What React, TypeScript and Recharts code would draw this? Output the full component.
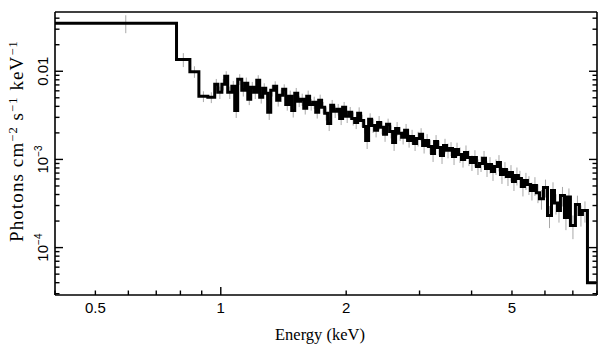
import React from "react"
import { ComposedChart, Line, Scatter, ErrorBar, XAxis, YAxis } from "recharts"

// lower bin edges (keV)
const binLo = [
    0.4, 0.783, 0.843, 0.886, 0.931, 0.967, 0.984, 1.006, 1.022, 1.039,
    1.063, 1.08, 1.098, 1.123, 1.142, 1.161, 1.18, 1.2, 1.22, 1.24,
    1.261, 1.282, 1.296, 1.318, 1.34, 1.362, 1.385, 1.408, 1.432, 1.456,
    1.48, 1.505, 1.53, 1.555, 1.582, 1.608, 1.634, 1.662, 1.69, 1.718,
    1.746, 1.776, 1.805, 1.836, 1.866, 1.898, 1.929, 1.961, 1.994, 2.028,
    2.062, 2.096, 2.131, 2.166, 2.203, 2.227, 2.264, 2.302, 2.34, 2.379,
    2.419, 2.459, 2.5, 2.543, 2.585, 2.628, 2.672, 2.717, 2.762, 2.808,
    2.855, 2.903, 2.951, 3.001, 3.051, 3.102, 3.154, 3.206, 3.26, 3.314,
    3.369, 3.425, 3.482, 3.541, 3.6, 3.66, 3.721, 3.783, 3.846, 3.91,
    3.975, 4.041, 4.108, 4.179, 4.25, 4.32, 4.392, 4.465, 4.54, 4.615,
    4.692, 4.77, 4.85, 4.932, 5.014, 5.097, 5.182, 5.269, 5.357, 5.446,
    5.538, 5.63, 5.724, 5.821, 5.951, 6.085, 6.221, 6.325, 6.43, 6.537,
    6.683, 6.794, 6.907, 7.101, 7.26, 7.381, 7.589,
]
const lastEdge = 7.97

// photons cm^-2 s^-1 keV^-1
const flux = [
    0.0351, 0.0136, 0.0099, 0.0052, 0.00506, 0.00711, 0.00577, 0.00712, 0.00878, 0.00577,
    0.00675, 0.0036, 0.00812, 0.00608, 0.00731, 0.0048, 0.00658, 0.00577, 0.00791, 0.00506,
    0.00641, 0.00562, 0.00342, 0.00608, 0.00675, 0.00468, 0.00533, 0.00624, 0.00421, 0.0052,
    0.0036, 0.00562, 0.00456, 0.0048, 0.0038, 0.0052, 0.00421, 0.00444, 0.00342, 0.00468,
    0.0039, 0.00333, 0.00256, 0.00411, 0.00351, 0.0037, 0.00292, 0.0039, 0.00308, 0.00342,
    0.00292, 0.00263, 0.00333, 0.00277, 0.00237, 0.00164, 0.00285, 0.00243, 0.00214, 0.00263,
    0.00231, 0.00193, 0.0025, 0.00208, 0.00156, 0.00225, 0.00198, 0.00178, 0.00214, 0.00164,
    0.00182, 0.00152, 0.00173, 0.00193, 0.00144, 0.00164, 0.0014, 0.00117, 0.0016, 0.00137,
    0.00111, 0.00144, 0.00127, 0.00133, 0.00108, 0.0013, 0.00114, 0.000999, 0.0012, 0.00105,
    0.000924, 0.00105, 0.000833, 0.0009, 0.00103, 0.00079, 0.000877, 0.000731, 0.000833, 0.000924,
    0.000676, 0.00077, 0.000641, 0.000712, 0.000562, 0.000658, 0.000608, 0.000494, 0.000577, 0.00052,
    0.000444, 0.000507, 0.00042, 0.000359, 0.00048, 0.000231, 0.000444, 0.00032, 0.000263, 0.00039,
    0.000219, 0.000375, 0.000178, 0.000308, 0.000237, 0.000263, 0.00004,
]

// fractional 1-sigma errors
const relErr = [
    0.23, 0.18, 0.15, 0.14, 0.14, 0.15, 0.16, 0.15, 0.14, 0.16,
    0.15, 0.18, 0.14, 0.15, 0.16, 0.14, 0.15, 0.16, 0.14, 0.15,
    0.14, 0.16, 0.18, 0.15, 0.14, 0.15, 0.16, 0.14, 0.15, 0.16,
    0.17, 0.15, 0.14, 0.16, 0.15, 0.16, 0.15, 0.16, 0.15, 0.16,
    0.15, 0.17, 0.18, 0.15, 0.16, 0.15, 0.16, 0.15, 0.16, 0.15,
    0.17, 0.16, 0.17, 0.16, 0.17, 0.2, 0.17, 0.18, 0.17, 0.18,
    0.17, 0.18, 0.16, 0.17, 0.2, 0.18, 0.18, 0.17, 0.18, 0.17,
    0.19, 0.18, 0.19, 0.17, 0.19, 0.18, 0.18, 0.2, 0.18, 0.19,
    0.2, 0.19, 0.19, 0.18, 0.2, 0.19, 0.2, 0.19, 0.2, 0.2,
    0.2, 0.21, 0.2, 0.2, 0.21, 0.2, 0.21, 0.22, 0.2, 0.21,
    0.22, 0.21, 0.22, 0.21, 0.22, 0.23, 0.22, 0.23, 0.22, 0.24,
    0.23, 0.24, 0.24, 0.25, 0.23, 0.28, 0.24, 0.26, 0.27, 0.25,
    0.28, 0.25, 0.3, 0.26, 0.27, 0.27, 0,
]

const xTicks = [0.4, 0.5, 0.6, 0.7, 0.8, 0.9, 1, 2, 3, 4, 5, 6, 7, 8]
const xTickLabels = ["", "0.5", "", "", "", "", "1", "2", "", "", "5", "", "", ""]
const yTicks = [
    3e-5, 4e-5, 5e-5, 6e-5, 7e-5, 8e-5, 9e-5, 1e-4,
    2e-4, 3e-4, 4e-4, 5e-4, 6e-4, 7e-4, 8e-4, 9e-4, 1e-3,
    2e-3, 3e-3, 4e-3, 5e-3, 6e-3, 7e-3, 8e-3, 9e-3, 0.01,
    0.02, 0.03, 0.04,
]
const yTickLabels: Record<string, [string, string]> = {
    "0.0001": ["10", "\u22124"],
    "0.001": ["10", "\u22123"],
    "0.01": ["0.01", ""],
}

const lineData = [
    ...binLo.map((e, i) => ({ e, f: flux[i] })),
    { e: lastEdge, f: flux[flux.length - 1] },
]
const barData = binLo.map((e, i) => {
    const hi = i + 1 < binLo.length ? binLo[i + 1] : lastEdge
    const d = flux[i] * relErr[i]
    return { e: (e + hi) / 2, f: flux[i], err: [d, d] }
})

const isDecade = (v: number) => Math.abs(Math.log10(v) - Math.round(Math.log10(v))) < 1e-6
const sans = "'Liberation Sans', Arial, sans-serif"
const serif = "'Liberation Serif', 'Times New Roman', serif"

const BottomTick = ({ x, y, payload, index }: any) => {
    const len = isDecade(payload.value) ? 8 : 4.5
    const lab = xTickLabels[index]
    return (
        <g>
            <line x1={x} x2={x} y1={y} y2={y - len} stroke="#000" strokeWidth={1.4} />
            {lab ? (
                <text x={x} y={y + 18} textAnchor="middle" fontFamily={sans} fontSize={15} fill="#000">
                    {lab}
                </text>
            ) : null}
        </g>
    )
}

const TopTick = ({ x, y, payload }: any) => {
    const len = isDecade(payload.value) ? 8 : 4.5
    return <line x1={x} x2={x} y1={y} y2={y + len} stroke="#000" strokeWidth={1.4} />
}

const LeftTick = ({ x, y, payload }: any) => {
    const len = isDecade(payload.value) ? 8 : 4.5
    const lab = yTickLabels[String(payload.value)]
    return (
        <g>
            <line x1={x} x2={x + len} y1={y} y2={y} stroke="#000" strokeWidth={1.4} />
            {lab ? (
                <text transform={`translate(${x - 7},${y}) rotate(-90)`} textAnchor="middle" fontFamily={sans} fontSize={15} fill="#000">
                    {lab[0]}
                    {lab[1] ? <tspan dy={-6} fontSize={10}>{lab[1]}</tspan> : null}
                </text>
            ) : null}
        </g>
    )
}

const RightTick = ({ x, y, payload }: any) => {
    const len = isDecade(payload.value) ? 8 : 4.5
    return <line x1={x} x2={x - len} y1={y} y2={y} stroke="#000" strokeWidth={1.4} />
}

const frame = { stroke: "#000", strokeWidth: 1.6 }

export default function App() {
    return (
        <div style={{ position: "absolute", left: 0, top: 0, width: 609, height: 357, background: "#fff" }}>
            <ComposedChart width={609} height={357} margin={{ top: 11, right: 11, bottom: 12, left: 0 }}>
                <XAxis xAxisId="b" dataKey="e" type="number" scale="log" domain={[0.4, 8]} allowDataOverflow
                    ticks={xTicks} interval={0} tickSize={0} tickMargin={0} tickLine={false}
                    tick={BottomTick} axisLine={frame} height={50} orientation="bottom" />
                <XAxis xAxisId="t" type="number" scale="log" domain={[0.4, 8]} allowDataOverflow
                    ticks={xTicks} interval={0} tickSize={0} tickMargin={0} tickLine={false}
                    tick={TopTick} axisLine={frame} height={1} orientation="top" />
                <YAxis yAxisId="l" dataKey="f" type="number" scale="log" domain={[2.9e-5, 0.047]} allowDataOverflow
                    ticks={yTicks} interval={0} tickSize={0} tickMargin={0} tickLine={false}
                    tick={LeftTick} axisLine={frame} width={55} orientation="left" />
                <YAxis yAxisId="r" type="number" scale="log" domain={[2.9e-5, 0.047]} allowDataOverflow
                    ticks={yTicks} interval={0} tickSize={0} tickMargin={0} tickLine={false}
                    tick={RightTick} axisLine={frame} width={1} orientation="right" />
                <Scatter xAxisId="b" yAxisId="l" data={barData} dataKey="f" shape={() => <g />} isAnimationActive={false}>
                    <ErrorBar dataKey="err" direction="y" width={0} stroke="#a8a8a8" strokeWidth={1} isAnimationActive={false} />
                </Scatter>
                <Line xAxisId="b" yAxisId="l" data={lineData} dataKey="f" type="stepAfter" dot={false}
                    stroke="#000" strokeWidth={3} strokeLinejoin="miter" strokeLinecap="butt" isAnimationActive={false} />
            </ComposedChart>
            <svg width={609} height={357} style={{ position: "absolute", left: 0, top: 0, pointerEvents: "none" }}>
                <text x={320} y={340} textAnchor="middle" fontFamily={serif} fontSize={16.5} fill="#000">
                    Energy (keV)
                </text>
                <text transform="translate(23,141) rotate(-90)" textAnchor="middle" fontFamily={serif} fontSize={19} letterSpacing={1.1} fill="#000">
                    Photons cm<tspan dy={-6} fontSize={12.5}>{"\u22122"}</tspan>
                    <tspan dy={6}> s</tspan>
                    <tspan dy={-6} fontSize={12.5}>{"\u22121"}</tspan>
                    <tspan dy={6}> keV</tspan>
                    <tspan dy={-6} fontSize={12.5}>{"\u22121"}</tspan>
                </text>
            </svg>
        </div>
    )
}
